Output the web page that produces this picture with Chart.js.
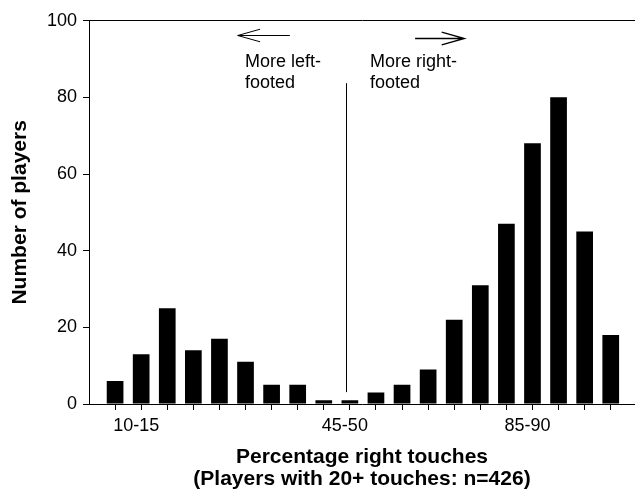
<!DOCTYPE html>
<html>
<head>
<meta charset="utf-8">
<script src="https://cdn.jsdelivr.net/npm/chart.js@4.4.1/dist/chart.umd.min.js"></script>
<style>
  html, body { margin: 0; padding: 0; background: #fff; }
  #wrap { width: 635px; height: 493px; }
</style>
</head>
<body>
<div id="wrap"><canvas id="c" width="635" height="493"></canvas></div>
<script>
// ---- data ----
const categories = ['', '10-15', '', '', '', '', '', '', '', '45-50',
                    '', '', '', '', '', '', '85-90', '', '', ''];
const players = [6, 13, 25, 14, 17, 11, 5, 5, 1, 1, 3, 5, 9, 22, 31, 47, 68, 80, 45, 18];
const yTicks = [0, 20, 40, 60, 80, 100];
const xTitle = ['Percentage right touches', '(Players with 20+ touches: n=426)'];
const yTitle = 'Number of players';
const leftNote = ['More left-', 'footed'];
const rightNote = ['More right-', 'footed'];

const FONT = "'Liberation Sans', Arial, Helvetica, sans-serif";

const annot = {
  id: 'annot',
  afterDraw(chart) {
    const { ctx, scales: { x, y } } = chart;
    const X = v => x.getPixelForValue(v);
    const Y = v => y.getPixelForValue(v);
    ctx.save();
    ctx.strokeStyle = '#000';
    ctx.fillStyle = '#000';
    ctx.lineWidth = 1;
    // divider line
    ctx.beginPath();
    ctx.moveTo(Math.round(X(8.84)) + 0.5, Y(83.7));
    ctx.lineTo(Math.round(X(8.84)) + 0.5, Y(3.1));
    ctx.stroke();
    // left arrow
    let ay = Math.round(Y(96.2)) + 0.5;
    ctx.beginPath();
    ctx.moveTo(X(6.70), ay); ctx.lineTo(X(4.70), ay);
    ctx.moveTo(X(5.56), ay - 6.3); ctx.lineTo(X(4.70), ay); ctx.lineTo(X(5.56), ay + 6.3);
    ctx.stroke();
    // right arrow
    ay = Math.round(Y(95.6)) + 0.5;
    ctx.lineWidth = 1.3;
    ctx.beginPath();
    ctx.moveTo(X(11.5), ay); ctx.lineTo(X(13.39), ay);
    ctx.moveTo(X(12.52), ay - 6.3); ctx.lineTo(X(13.39), ay); ctx.lineTo(X(12.52), ay + 6.3);
    ctx.stroke();
    // notes
    ctx.font = '18px ' + FONT;
    ctx.textAlign = 'left';
    ctx.textBaseline = 'alphabetic';
    ctx.fillText(leftNote[0], X(4.98), Y(87.9));
    ctx.fillText(leftNote[1], X(4.98), Y(82.4));
    ctx.fillText(rightNote[0], X(9.77), Y(87.9));
    ctx.fillText(rightNote[1], X(9.77), Y(82.4));
    ctx.restore();
  }
};

new Chart(document.getElementById('c'), {
  type: 'bar',
  data: {
    datasets: [{
      data: players.map((v, i) => ({ x: i, y: v })),
      backgroundColor: '#000',
      borderWidth: 0,
      categoryPercentage: 0.8,
      barPercentage: 0.8
    }]
  },
  options: {
    responsive: false,
    animation: false,
    devicePixelRatio: 1,
    layout: { padding: { top: 20.7, right: 0, left: 0, bottom: 3 } },
    plugins: { legend: { display: false }, tooltip: { enabled: false } },
    scales: {
      x: {
        type: 'linear',
        min: -1,
        max: 19.93,
        offset: false,
        afterBuildTicks: s => { s.ticks = categories.map((_, i) => ({ value: i })); },
        afterFit: s => { s.height = 86; },
        grid: { display: true, drawOnChartArea: false, drawTicks: true, tickLength: 6, tickColor: '#000', tickWidth: 1, offset: false },
        border: { display: true, color: '#000', width: 1 },
        ticks: {
          autoSkip: false,
          maxRotation: 0,
          padding: 5,
          labelOffset: -5,
          color: '#000',
          font: { family: FONT, size: 18 },
          callback: v => categories[v] ?? ''
        },
        title: {
          display: true,
          text: xTitle,
          color: '#000',
          font: { family: FONT, size: 21, weight: 'bold', lineHeight: 1.03 },
          padding: { top: 0, bottom: 0 }
        }
      },
      y: {
        min: 0,
        max: 100,
        afterBuildTicks: s => { s.ticks = yTicks.map(v => ({ value: v })); },
        afterFit: s => { s.width = 89; },
        grid: {
          drawOnChartArea: true,
          color: c => (c.tick && c.tick.value === 100) ? '#000' : 'rgba(0,0,0,0)',
          tickColor: '#000',
          tickLength: 6,
          lineWidth: 1
        },
        border: { display: true, color: '#000', width: 1 },
        ticks: {
          padding: 6,
          color: '#000',
          font: { family: FONT, size: 18 }
        },
        title: {
          display: true,
          text: yTitle,
          color: '#000',
          font: { family: FONT, size: 21, weight: 'bold', lineHeight: 1 },
          padding: { top: 10, bottom: 0 }
        }
      }
    }
  },
  plugins: [annot]
});
</script>
</body>
</html>
